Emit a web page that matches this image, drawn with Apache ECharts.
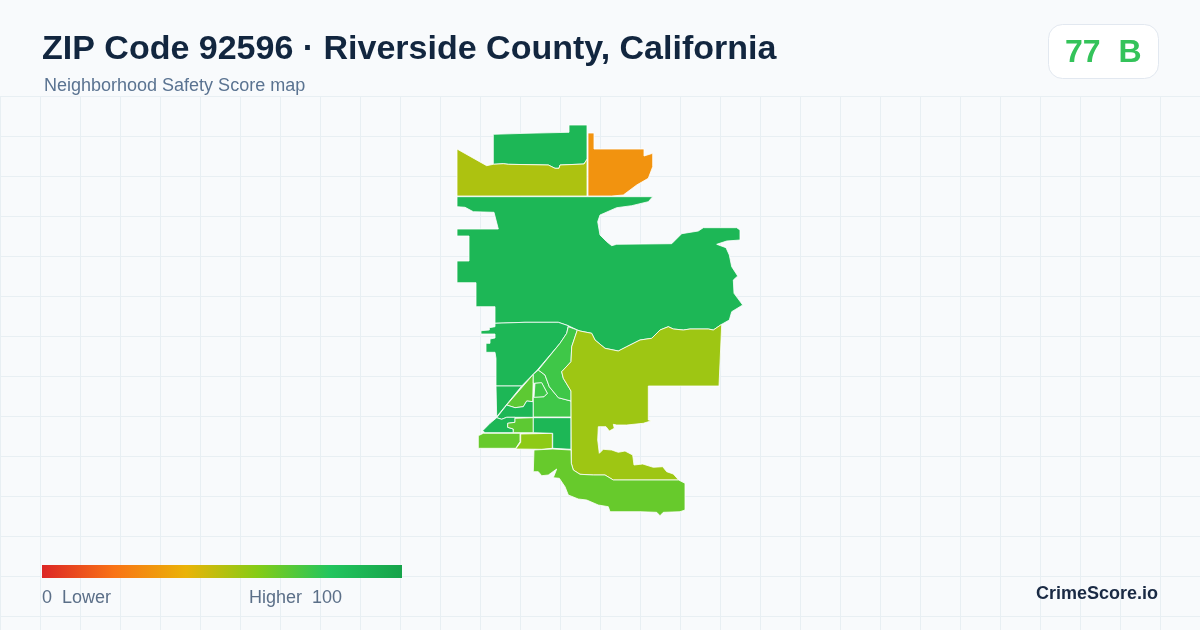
<!DOCTYPE html>
<html>
<head>
<meta charset="utf-8">
<style>html,body{margin:0;padding:0;background:#f8fafc}#c{width:1200px;height:630px}</style>
<script src="https://cdn.jsdelivr.net/npm/echarts@6/dist/echarts.min.js"></script>
</head>
<body>
<div id="c"></div>
<script>
const xTicks = [0, 1200, 40];
const yTicks = [0, 534, 40];
const regionNames = ['north','northwest','northeast','main','west','westlow','wedge','midupper','midlower','limeinner','swblock','swlime','southdark','central','centralinner','eastwedge','east','south'];
const regionValues = [88, 52, 30, 88, 88, 88, 68, 88, 88, 68, 66, 58, 88, 74, 74, 74, 55, 66];
const north = [[493.3,134.3],[526,133.3],[569,132.3],[569,125],[587,125],[587,159.3],[584,164],[560,165],[559,168.3],[555,168.3],[548.3,165],[508.3,164.3],[503.3,163.7],[493.3,164.3]];
const northwest = [[457,149],[486.7,165.7],[493.3,164.3],[503.3,163.7],[508.3,164.3],[548.3,165],[555,168.3],[559,168.3],[560,165],[584,164],[587,159.3],[587,196],[457,196]];
const northeast = [[588,133],[594,133],[594,149],[644,149],[644,156],[652.7,153.3],[652.7,166.7],[648.3,178.3],[636.7,185],[623.3,195],[611.7,196],[588,196]];
const main = [[457,196.7],[652.7,196.7],[648.3,201.7],[631.7,205.7],[616.7,207.7],[600,215],[597.7,221.7],[600,235],[606.7,241.7],[611.7,245.7],[616.7,244.3],[671.7,243.7],[681.7,233.7],[698.3,231],[703.3,227.7],[736.7,227.7],[740,230],[740,240],[726.7,241],[716.7,244.3],[726,247.7],[729.3,255],[731.7,266.7],[737.7,276],[733.3,280],[734,293.3],[742.7,305],[731.7,311.7],[729.3,320],[721.7,324.3],[713.3,330],[708.3,329],[690,329],[683.3,330],[673.3,329],[668.3,326.7],[660,330],[651.7,338.3],[640,340],[626.7,346.7],[618.3,351],[605,348.3],[595,340],[591.7,333.3],[580,331],[577.3,330],[568.3,325.7],[558.3,322.3],[525,322.3],[495,323.3],[495,306.7],[476,306.7],[476,282.7],[457,282.7],[457,261],[469,261],[469,236],[457,236],[457,229],[498.3,229],[494,212.3],[473.3,211.7],[465,207.3],[457,206.7]];
const west = [[495,323.3],[525,322.3],[558.3,322.3],[568.3,325.7],[566.7,333.3],[560,343.3],[537.3,370],[521.7,386],[496,386],[496,358.3],[495,352.3],[486,352.3],[486,343.3],[490,343.3],[490,339],[495,338],[495,334],[481,334],[481,330.7],[489.3,330],[489.3,327.7],[495,326.7]];
const westlow = [[496,386],[521.7,386],[496.7,416.7]];
const wedge = [[533.3,374.3],[506.7,405],[515,407.7],[523.3,406.7],[526.7,401],[532.7,401.7]];
const midupper = [[506.7,405],[515,407.7],[523.3,406.7],[526.7,401],[533.3,401.7],[533.3,417.3],[506.7,417.3],[501.7,419.3],[496.7,417.7]];
const midlower = [[496.7,417.7],[501.7,419.3],[506.7,417.3],[515,417.3],[515,422.3],[507.7,423.3],[507.7,427.3],[513.3,429],[513.3,432.7],[485,432.7],[482.7,430.7],[490,423.3]];
const limeinner = [[515,418.3],[533.3,417.7],[533.3,432.7],[513.3,432.7],[513.3,429],[507.7,427.3],[507.7,423.3],[515,422.3]];
const swblock = [[478.3,435.7],[483.3,433.3],[520,433.3],[520,441.7],[515.7,448.3],[478.3,448.3]];
const swlime = [[520.7,434],[552.3,433.3],[552.3,448.3],[541.7,449.3],[515.7,449],[520.7,442.3]];
const southdark = [[533.3,417.7],[571,417.7],[571,449.3],[552.7,448.3],[552.7,433.3],[533.3,432.7]];
const central = [[533.3,374.3],[538.3,370],[545,375],[549.3,386.7],[558.3,397.7],[571,401],[571,417],[533.3,417],[533.3,397],[544,396.7],[547.3,393.3],[541.7,383],[534.7,383.3],[533.3,383]];
const centralinner = [[535,383.3],[541.7,382.7],[547.3,393.3],[544,396.7],[534,397.3]];
const eastwedge = [[568.3,326.7],[577.3,330],[571.7,346.7],[571,361.7],[561.7,371.7],[563.3,378.3],[571,391],[571,401],[558.3,397.7],[549.3,386.7],[545,375],[538.3,370],[560,343.3],[566.7,333.3]];
const east = [[721.7,324.3],[719,386],[648.3,386],[648.3,420],[651.7,420.7],[643.3,423.3],[626.7,425],[616.7,425],[613.3,424.3],[614.3,428.3],[609.3,431],[606,426.7],[598.3,426.7],[597.7,440],[599.3,453.3],[603.3,449.3],[611.7,450],[618.3,452.3],[625,451],[632.7,455],[634,465],[642.7,464],[653.3,467.3],[662.7,466.7],[666.7,471.7],[673.3,474],[678.7,480],[613.3,480],[605,475],[593.3,475],[580,474.3],[573.3,470],[571.3,463.3],[571,391],[563.3,378.3],[561.7,371.7],[571,361.7],[571.7,346.7],[577.3,330],[580,331],[591.7,333.3],[595,340],[605,348.3],[618.3,351],[626.7,346.7],[640,340],[651.7,338.3],[660,330],[668.3,326.7],[673.3,329],[683.3,330],[690,329],[708.3,329],[713.3,330]];
const south = [[534,450],[552.7,449],[571,450],[571.3,463.3],[573.3,470],[580,474.3],[593.3,475],[605,475],[613.3,480],[678.7,480],[685,483.3],[685,510],[680,511.7],[663.3,512.3],[660,515.7],[656.7,512.3],[640,511.7],[610,511.7],[608.3,506.7],[598.3,505],[586.7,500],[578.3,499],[568.3,495],[565,486.7],[559.3,478.3],[553.3,477.7],[556.7,469],[548.3,475],[541.7,475.7],[538.3,471.7],[533.3,471.7]];
const rings = [north,northwest,northeast,main,west,westlow,wedge,midupper,midlower,limeinner,swblock,swlime,southdark,central,centralinner,eastwedge,east,south];
const scaleColors = ['#dc2626','#f97316','#eab308','#84cc16','#22c55e','#16a34a'];

const features = regionNames.map((n,i)=>({type:'Feature',properties:{name:n},geometry:{type:'Polygon',coordinates:[rings[i]]}}));
echarts.registerMap('zip92596',{type:'FeatureCollection',features});
const chart = echarts.init(document.getElementById('c'),null,{renderer:'canvas'});
const font = '"Liberation Sans", Arial, sans-serif';
chart.setOption({
  animation:false,
  backgroundColor:'#f8fafc',
  grid:{left:0,right:0,top:96,bottom:0,show:false},
  xAxis:{type:'value',min:xTicks[0],max:xTicks[1],interval:xTicks[2],axisLine:{show:false},axisTick:{show:false},axisLabel:{show:false},splitLine:{show:true,lineStyle:{color:'#e8eff3',width:1}}},
  yAxis:{type:'value',inverse:true,min:yTicks[0],max:yTicks[1],interval:yTicks[2],axisLine:{show:false},axisTick:{show:false},axisLabel:{show:false},splitLine:{show:true,lineStyle:{color:'#e8eff3',width:1}}},
  title:[
    {text:'ZIP Code 92596 · Riverside County, California',left:42,top:33,padding:0,textStyle:{fontFamily:font,fontSize:34,fontWeight:'bold',color:'#12263f'}},
    {text:'Neighborhood Safety Score map',left:44,top:77,padding:0,textStyle:{fontFamily:font,fontSize:18,fontWeight:'normal',color:'#5a7391'}},
    {text:'0  Lower',left:42,top:589,padding:0,textStyle:{fontFamily:font,fontSize:18,fontWeight:'normal',color:'#5b6f88'}},
    {text:'Higher  100',left:249,top:589,padding:0,textStyle:{fontFamily:font,fontSize:18,fontWeight:'normal',color:'#5b6f88'}},
    {text:'CrimeScore.io',left:1036,top:585,padding:0,textStyle:{fontFamily:font,fontSize:18,fontWeight:'bold',color:'#1a2a44'}},
    {text:'77  B',left:1065,top:37,padding:0,textStyle:{fontFamily:font,fontSize:32,fontWeight:'bold',color:'#34c35a'}}
  ],
  graphic:{elements:[
    {type:'rect',z:-1,silent:true,shape:{x:1048.5,y:24.5,width:110,height:54,r:14},style:{fill:'#ffffff',stroke:'#e2e8f0',lineWidth:1}},
    {type:'rect',z:100,silent:true,shape:{x:42,y:565,width:360,height:13},style:{fill:new echarts.graphic.LinearGradient(0,0,1,0,scaleColors.map((c,i)=>({offset:i/(scaleColors.length-1),color:c})))}}
  ]},
  visualMap:{type:'continuous',show:false,min:0,max:100,inRange:{color:scaleColors},seriesIndex:0},
  series:[{
    type:'map',map:'zip92596',silent:true,roam:false,
    projection:{project:p=>p,unproject:p=>p},
    left:457,top:125,width:285.7,height:390.7,
    label:{show:false},
    itemStyle:{borderColor:'#ffffff',borderWidth:0.8},
    emphasis:{disabled:true},
    data:regionNames.map((n,i)=>({name:n,value:regionValues[i]}))
  }]
});
</script>
</body>
</html>
